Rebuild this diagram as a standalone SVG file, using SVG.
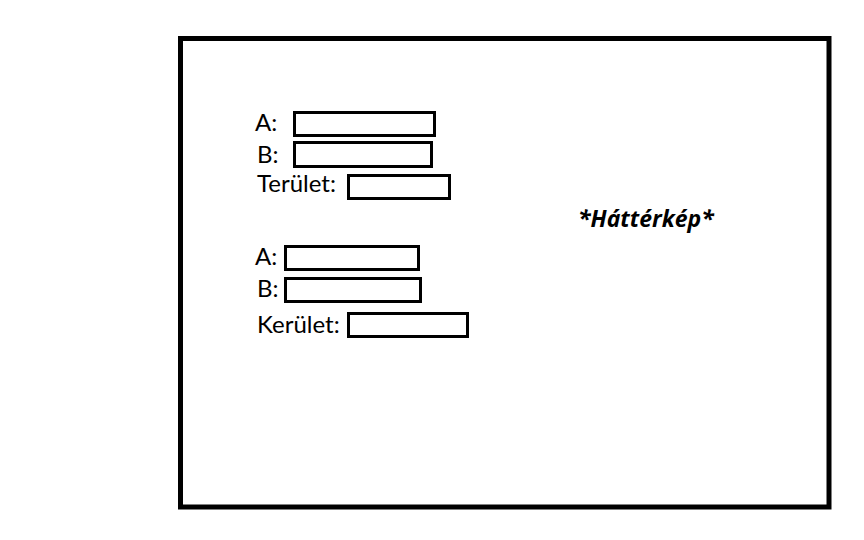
<svg xmlns="http://www.w3.org/2000/svg" width="864" height="540" viewBox="0 0 864 540">
<style>
.lbl{font-family:Lato,"Liberation Sans",sans-serif;font-size:24px;fill:#000}
.box{fill:#fff;stroke:#000;stroke-width:3}
.title{font-family:"Open Sans","Liberation Sans",sans-serif;font-size:23px;font-weight:bold;font-style:italic;fill:#000}
</style>
<rect width="864" height="540" fill="#fff"/>
<g id="frame"><rect x="180.5" y="38.5" width="648.5" height="468.5" fill="none" stroke="#000" stroke-width="5"/></g>
<g id="area-a"><text class="lbl" x="255" y="131">A:</text><rect class="box" x="294.5" y="112.5" width="140" height="23"/></g>
<g id="area-b"><text class="lbl" x="257" y="163">B:</text><rect class="box" x="294.5" y="142.5" width="137" height="24"/></g>
<g id="area-result"><text class="lbl" x="257" y="192">Terület:</text><rect class="box" x="348.5" y="175.5" width="101" height="23"/></g>
<g id="perim-a"><text class="lbl" x="255" y="265">A:</text><rect class="box" x="285.5" y="246.5" width="133" height="23"/></g>
<g id="perim-b"><text class="lbl" x="257" y="297">B:</text><rect class="box" x="285.5" y="278.5" width="135" height="23"/></g>
<g id="perim-result"><text class="lbl" x="257" y="333">Kerület:</text><rect class="box" x="348.5" y="313.5" width="119" height="23"/></g>
<g id="background"><text class="title" x="578" y="227">*Háttérkép*</text></g>
<g id="connectors"></g>
</svg>
